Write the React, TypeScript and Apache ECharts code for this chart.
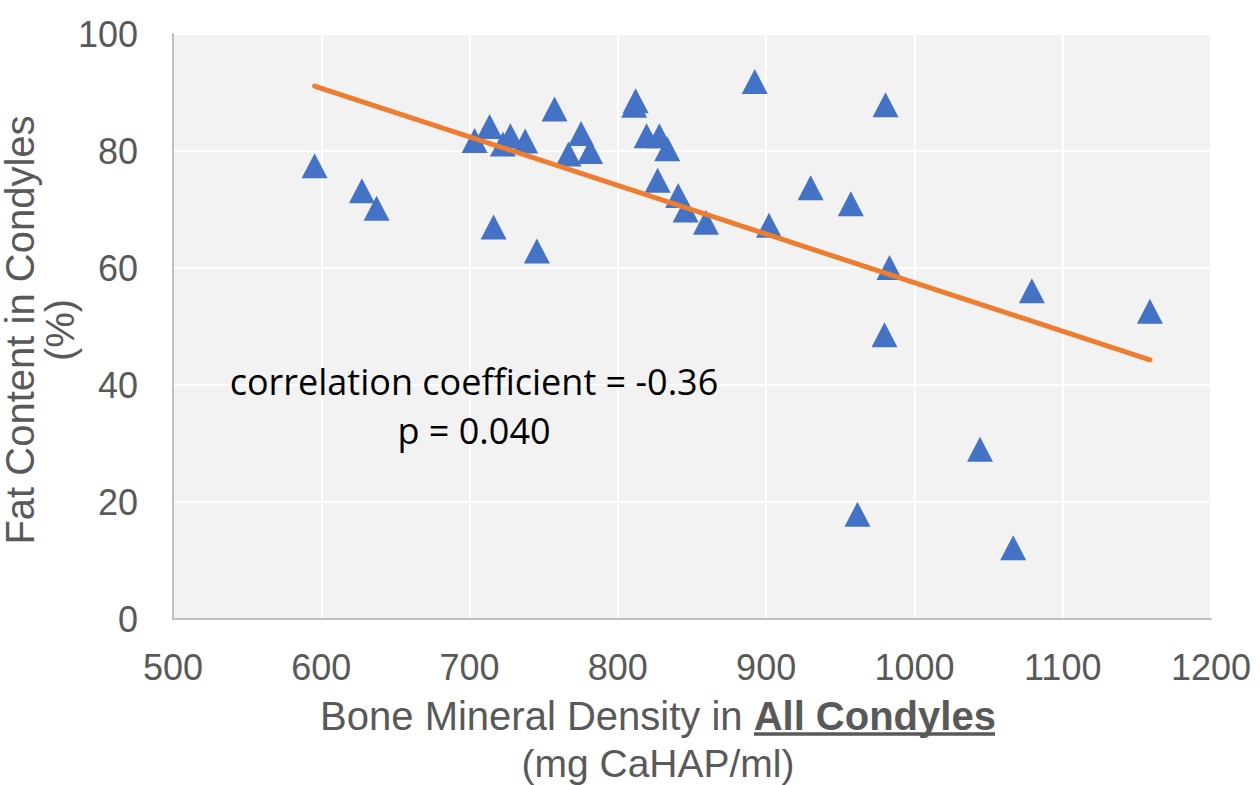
import React, { useEffect, useRef } from "react";
import * as echarts from "echarts";

const bmd = [
  595.5, 627.4, 637.3, 703.4, 713.5, 722.5, 727.5, 737.5, 757.3, 766.7,
  775.2, 781.3, 812.0, 811.0, 819.4, 828.0, 833.3, 826.8, 840.7, 845.7,
  859.4, 716.2, 745.4, 892.3, 980.5, 930.0, 957.1, 901.9, 983.2, 1079.2,
  1158.8, 979.8, 1044.2, 961.6, 1066.6,
];
const fat = [
  77.5, 73.2, 70.2, 81.8, 84.2, 81.2, 82.6, 81.7, 87.2, 79.5,
  83.0, 79.9, 88.6, 87.8, 82.6, 82.6, 80.4, 75.0, 72.4, 69.9,
  67.8, 67.0, 62.9, 91.9, 87.9, 73.7, 71.0, 67.3, 60.1, 56.1,
  52.6, 48.6, 29.0, 17.9, 12.2,
];
const trendX = [595.5, 1158.8];
const trendY = [91.1, 44.3];
const xTicks = [500, 600, 700, 800, 900, 1000, 1100, 1200];
const yTicks = [0, 20, 40, 60, 80, 100];
const annotation = ["correlation coefficient = -0.36", "p = 0.040"];
const xTitleMain = "Bone Mineral Density in ";
const xTitleBold = "All Condyles";
const xTitleUnit = "(mg CaHAP/ml)";
const yTitleMain = "Fat Content in Condyles";
const yTitleUnit = "(%)";

const TEXT = "#595959";
const FONT = "Liberation Sans";

export default function App() {
  const ref = useRef<HTMLDivElement>(null);
  useEffect(() => {
    if (!ref.current) return;
    const chart = echarts.init(ref.current, undefined, { renderer: "svg" });
    chart.setOption({
      animation: false,
      backgroundColor: "#ffffff",
      grid: {
        left: 173,
        top: 34,
        right: 49,
        bottom: 166,
        show: true,
        backgroundColor: "#F2F2F2",
        borderWidth: 0,
      },
      xAxis: {
        type: "value",
        min: xTicks[0],
        max: xTicks[xTicks.length - 1],
        interval: 100,
        axisLine: { show: true, onZero: false, lineStyle: { color: "#BFBFBF", width: 2 } },
        axisTick: { show: false },
        splitLine: { show: true, lineStyle: { color: "#FFFFFF", width: 2 } },
        axisLabel: {
          color: TEXT,
          fontSize: 36,
          fontFamily: FONT,
          margin: 30,
          formatter: (v: number) => String(v),
        },
      },
      yAxis: {
        type: "value",
        min: yTicks[0],
        max: yTicks[yTicks.length - 1],
        interval: 20,
        axisLine: { show: true, onZero: false, lineStyle: { color: "#BFBFBF", width: 2 } },
        axisTick: { show: false },
        splitLine: { show: true, lineStyle: { color: "#FFFFFF", width: 2 } },
        axisLabel: {
          color: TEXT,
          fontSize: 36,
          fontFamily: FONT,
          margin: 35,
          formatter: (v: number) => String(v),
        },
      },
      series: [
        {
          type: "scatter",
          data: bmd.map((x, i) => [x, fat[i]]),
          symbol: "triangle",
          symbolSize: [26, 25],
          itemStyle: { color: "#4472C4", opacity: 1 },
          z: 3,
        },
        {
          type: "line",
          data: trendX.map((x, i) => [x, trendY[i]]),
          showSymbol: false,
          symbol: "none",
          lineStyle: { color: "#ED7D31", width: 5, cap: "round" },
          z: 4,
        },
      ],
      graphic: [
        {
          type: "text",
          x: 474,
          y: 381,
          z: 100,
          style: {
            text: annotation[0],
            fill: "#000000",
            fontSize: 36,
            fontFamily: "Open Sans",
            textAlign: "center",
            textVerticalAlign: "middle",
          },
        },
        {
          type: "text",
          x: 474,
          y: 430,
          z: 100,
          style: {
            text: annotation[1],
            fill: "#000000",
            fontSize: 36,
            fontFamily: "Open Sans",
            textAlign: "center",
            textVerticalAlign: "middle",
          },
        },
        {
          type: "text",
          x: 658,
          y: 716,
          z: 100,
          style: {
            text: "{a|" + xTitleMain + "}{b|" + xTitleBold + "}",
            textAlign: "center",
            textVerticalAlign: "middle",
            rich: {
              a: { fontSize: 40, fontFamily: FONT, fill: TEXT, color: TEXT },
              b: { fontSize: 40, fontFamily: FONT, fontWeight: "bold", fill: TEXT, color: TEXT },
            },
          },
        },
        {
          type: "line",
          z: 100,
          shape: { x1: 754, y1: 734, x2: 995, y2: 734 },
          style: { stroke: TEXT, lineWidth: 3.5 },
        },
        {
          type: "text",
          x: 658,
          y: 763,
          z: 100,
          style: {
            text: xTitleUnit,
            fill: TEXT,
            fontSize: 39,
            fontFamily: FONT,
            textAlign: "center",
            textVerticalAlign: "middle",
          },
        },
        {
          type: "text",
          x: 20,
          y: 330,
          z: 100,
          rotation: Math.PI / 2,
          style: {
            text: yTitleMain,
            fill: TEXT,
            fontSize: 40,
            fontFamily: FONT,
            textAlign: "center",
            textVerticalAlign: "middle",
          },
        },
        {
          type: "text",
          x: 60,
          y: 330,
          z: 100,
          rotation: Math.PI / 2,
          style: {
            text: yTitleUnit,
            fill: TEXT,
            fontSize: 40,
            fontFamily: FONT,
            textAlign: "center",
            textVerticalAlign: "middle",
          },
        },
      ],
    });
    return () => chart.dispose();
  }, []);
  return <div ref={ref} style={{ width: 1260, height: 785, position: "absolute", left: 0, top: 0 }} />;
}
